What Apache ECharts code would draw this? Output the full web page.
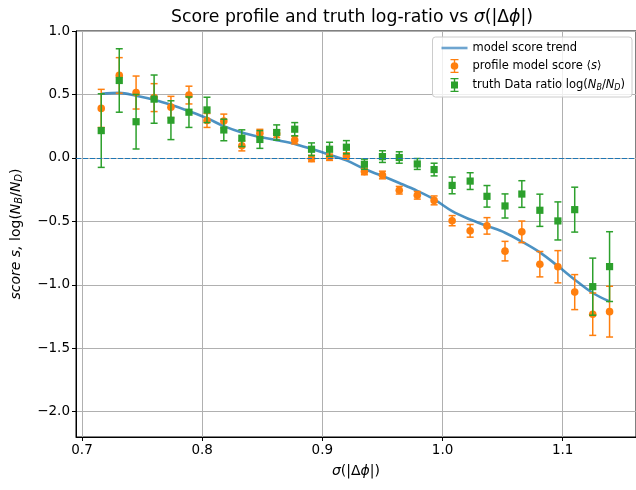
<!DOCTYPE html>
<html>
<head>
<meta charset="utf-8">
<script src="https://cdn.jsdelivr.net/npm/echarts@6/dist/echarts.min.js"></script>
<style>
html,body{margin:0;padding:0;background:#fff;}
#chart{width:636px;height:490px;}
</style>
</head>
<body>
<div id="chart"></div>
<script>
// ---- data ----
var xValues = [0.716,0.731,0.745,0.760,0.774,0.789,0.804,0.818,0.833,0.848,
               0.862,0.877,0.891,0.906,0.920,0.935,0.950,0.964,0.979,0.993,
               1.008,1.023,1.037,1.052,1.066,1.081,1.096,1.110,1.125,1.139];
var modelTrend = [0.505,0.512,0.49,0.458,0.418,0.368,0.313,0.25,0.20,0.165,
                  0.14,0.11,0.07,0.025,-0.02,-0.088,-0.143,-0.198,-0.26,-0.327,
                  -0.42,-0.486,-0.536,-0.59,-0.66,-0.745,-0.853,-0.96,-1.065,-1.132];
var profileScore = [0.39,0.65,0.515,0.475,0.40,0.495,0.295,0.29,0.095,0.195,
                    0.19,0.14,-0.005,0.005,0.015,-0.108,-0.135,-0.255,-0.295,-0.335,
                    -0.495,-0.575,-0.536,-0.735,-0.583,-0.838,-0.858,-1.058,-1.232,-1.212];
var profileErr = [0.15,0.14,0.13,0.11,0.085,0.07,0.055,0.055,0.04,0.03,
                  0.03,0.03,0.025,0.025,0.025,0.025,0.03,0.03,0.03,0.035,
                  0.04,0.05,0.065,0.077,0.085,0.10,0.127,0.138,0.167,0.20];
var truthRatio = [0.215,0.61,0.285,0.463,0.297,0.36,0.378,0.22,0.155,0.145,
                  0.20,0.226,0.068,0.068,0.084,-0.05,0.01,0.003,-0.048,-0.092,
                  -0.217,-0.183,-0.303,-0.379,-0.285,-0.413,-0.497,-0.408,-1.015,-0.857];
var truthErr = [0.29,0.25,0.215,0.19,0.153,0.12,0.10,0.085,0.066,0.07,
                0.06,0.052,0.05,0.055,0.052,0.04,0.046,0.045,0.043,0.05,
                0.066,0.066,0.085,0.095,0.105,0.127,0.15,0.177,0.225,0.275];
var xTicks = [0.7,0.8,0.9,1.0,1.1];
var yTicks = [-2.0,-1.5,-1.0,-0.5,0.0,0.5,1.0];

// ---- build ----
function zip3(a,b,c){var r=[];for(var i=0;i<a.length;i++){r.push([a[i],b[i],c[i]]);}return r;}
function zip2(a,b){var r=[];for(var i=0;i<a.length;i++){r.push([a[i],b[i]]);}return r;}

function errRender(color, shape){
  return function(params, api){
    var x=api.value(0), y=api.value(1), e=api.value(2);
    var p=api.coord([x,y]), t=api.coord([x,y+e]), b=api.coord([x,y-e]);
    var cw=3.5;
    var ls={stroke:color,lineWidth:1.5};
    var children=[
      {type:'line',shape:{x1:p[0],y1:t[1],x2:p[0],y2:b[1]},style:ls},
      {type:'line',shape:{x1:p[0]-cw,y1:t[1],x2:p[0]+cw,y2:t[1]},style:ls},
      {type:'line',shape:{x1:p[0]-cw,y1:b[1],x2:p[0]+cw,y2:b[1]},style:ls}
    ];
    if(shape==='circle'){
      children.push({type:'circle',shape:{cx:p[0],cy:p[1],r:3.8},style:{fill:color}});
    } else {
      children.push({type:'rect',shape:{x:p[0]-3.6,y:p[1]-3.6,width:7.2,height:7.2},style:{fill:color}});
    }
    return {type:'group',children:children};
  };
}

var fmt = function(v){ return v.toFixed(1).replace('-', '\u2212'); };
var lineIcon='path://M0,0h26v2.6h-26z';
var orangeIcon='path://M3.3,0h1.4v14h-1.4z M0,0h8v1.3h-8z M0,12.7h8v1.3h-8z M0.2,7a3.8,3.8 0 1,1 7.6,0a3.8,3.8 0 1,1 -7.6,0z';
var greenIcon='path://M3.3,0h1.4v14h-1.4z M0,0h8v1.3h-8z M0,12.7h8v1.3h-8z M0.5,3.5h7v7h-7z';

var chart = echarts.init(document.getElementById('chart'), null, {renderer:'canvas'});
var option = {
  animation:false,
  backgroundColor:'#ffffff',
  textStyle:{fontFamily:'DejaVu Sans'},
  title:{
    text:'Score profile and truth log-ratio vs {i|σ}(|Δ{i|ϕ}|)',
    left:347, top:4, textAlign:'center',
    textStyle:{fontFamily:'DejaVu Sans',fontSize:17.3,fontWeight:'normal',color:'#000',
      rich:{i:{fontFamily:'DejaVu Sans',fontStyle:'italic',fontSize:17.3,color:'#000'}}}
  },
  legend:{
    orient:'vertical', right:4, top:37,
    padding:[5,7,5,9],
    backgroundColor:'rgba(255,255,255,0.8)',
    borderColor:'#cccccc', borderWidth:1, borderRadius:3,
    itemWidth:26, itemHeight:14, itemGap:5,
    textStyle:{fontFamily:'DejaVu Sans',fontSize:11.5,color:'#000',
      rich:{i:{fontStyle:'italic',fontSize:11.5,color:'#000'},
            s:{fontStyle:'italic',fontSize:8,color:'#000',verticalAlign:'bottom',padding:[5,0,0,0]}}},
    formatter:function(name){
      if(name==='profile model score'){return 'profile model score \u27e8{i|s}\u27e9';}
      if(name==='truth Data ratio'){return 'truth Data ratio log({i|N}{s|B}/{i|N}{s|D})';}
      return name;
    },
    data:[
      {name:'model score trend',icon:lineIcon,itemStyle:{color:'#4a8fc4'}},
      {name:'profile model score',icon:orangeIcon,itemStyle:{color:'#ff7f0e'}},
      {name:'truth Data ratio',icon:greenIcon,itemStyle:{color:'#2ca02c'}}
    ]
  },
  grid:{left:76, right:-2, top:31, bottom:53, show:true, borderColor:'#000', borderWidth:1, backgroundColor:'transparent'},
  xAxis:{
    type:'value', min:0.695, max:1.161,
    name:'{i|σ}(|Δ{i|ϕ}|)', nameLocation:'middle', nameGap:27,
    nameTextStyle:{fontFamily:'DejaVu Sans',fontSize:14,color:'#000',
      rich:{i:{fontStyle:'italic',fontSize:14,color:'#000'}}},
    axisLine:{show:true,onZero:false,lineStyle:{color:'#000',width:1}},
    axisTick:{show:true,inside:false,length:4,lineStyle:{color:'#000'},customValues:xTicks},
    axisLabel:{color:'#000',fontSize:13.5,margin:6,customValues:xTicks,formatter:fmt},
    splitLine:{show:true,lineStyle:{color:'#b0b0b0',width:1}}
  },
  yAxis:{
    type:'value', min:-2.2, max:1.0,
    name:'{i|score s,} log({i|N}{s|B}/{i|N}{s|D})', nameLocation:'middle', nameRotate:90, nameGap:52,
    nameTextStyle:{fontFamily:'DejaVu Sans',fontSize:14,color:'#000',
      rich:{i:{fontStyle:'italic',fontSize:14,color:'#000'},
            s:{fontStyle:'italic',fontSize:10,color:'#000',verticalAlign:'bottom',padding:[6,0,0,0]}}},
    axisLine:{show:true,onZero:false,lineStyle:{color:'#000',width:1}},
    axisTick:{show:true,inside:false,length:4,lineStyle:{color:'#000'},customValues:yTicks},
    axisLabel:{color:'#000',fontSize:13.5,margin:6,customValues:yTicks,formatter:fmt},
    splitLine:{show:true,lineStyle:{color:'#b0b0b0',width:1}}
  },
  series:[
    {
      name:'model score trend', type:'line', data:zip2(xValues,modelTrend),
      smooth:0.35, showSymbol:false, symbol:'none', z:2,
      lineStyle:{color:'#1f77b4',width:2.6,opacity:0.8},
      itemStyle:{color:'#1f77b4',opacity:0.8},
      markLine:{silent:true,symbol:'none',label:{show:false},
        lineStyle:{color:'#1f77b4',type:[5,2],width:1.2,opacity:1},
        data:[{yAxis:0}]}
    },
    {
      name:'profile model score', type:'custom', z:3,
      itemStyle:{color:'#ff7f0e'},
      encode:{x:0,y:1},
      renderItem:errRender('#ff7f0e','circle'),
      data:zip3(xValues,profileScore,profileErr)
    },
    {
      name:'truth Data ratio', type:'custom', z:4,
      itemStyle:{color:'#2ca02c'},
      encode:{x:0,y:1},
      renderItem:errRender('#2ca02c','square'),
      data:zip3(xValues,truthRatio,truthErr)
    }
  ]
};
chart.setOption(option);
</script>
</body>
</html>
